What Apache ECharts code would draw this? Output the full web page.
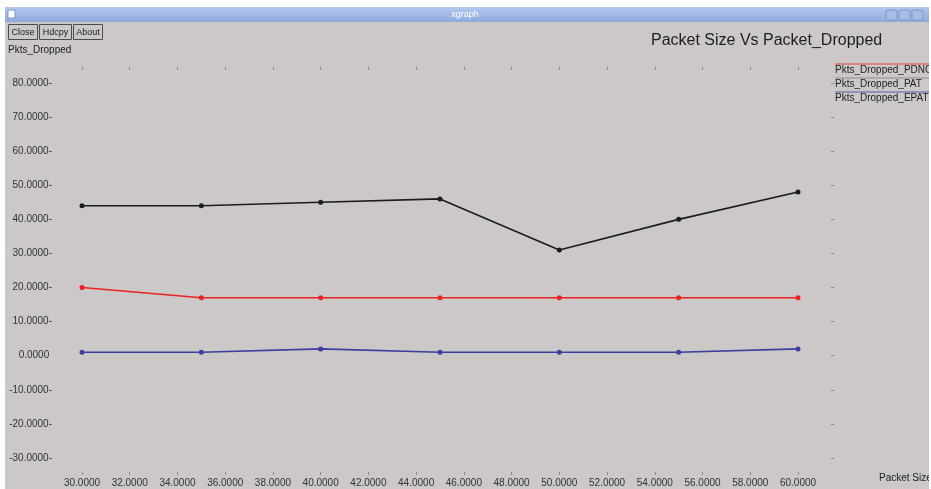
<!DOCTYPE html>
<html>
<head>
<meta charset="utf-8">
<title>xgraph</title>
<script src="https://cdn.jsdelivr.net/npm/echarts@6/dist/echarts.min.js"></script>
<style>
  html, body { margin: 0; padding: 0; background: #ffffff; }
  #chart { width: 931px; height: 489px; }
</style>
</head>
<body>
<div id="chart"></div>
<script>
// Packet size on the x axis, dropped packets for each scheme on the y axis
const packetSizes = [30, 35, 40, 45, 50, 55, 60];
const droppedPDNC = [20, 17, 17, 17, 17, 17, 17];
const droppedPAT  = [44, 44, 45, 46, 31, 40, 48];
const droppedEPAT = [1, 1, 2, 1, 1, 1, 2];
const seriesNames = ['Pkts_Dropped_PDNC', 'Pkts_Dropped_PAT', 'Pkts_Dropped_EPAT'];
const seriesColors = ['#e8231f', '#1c1c1c', '#3c3f9e'];
const windowTitle = 'xgraph';
const buttonLabels = ['Close', 'Hdcpy', 'About'];

const PANEL = '#cbc8c7';
const LABEL_FONT = 'Liberation Sans, Arial, sans-serif';

function pairs(values) {
  return packetSizes.map((x, i) => [x, values[i]]);
}

const chart = echarts.init(document.getElementById('chart'), null, { renderer: 'canvas' });

// window frame: panel, title bar, buttons, captions
const graphics = [
  { type: 'rect', shape: { x: 5, y: 22, width: 924, height: 467 }, style: { fill: PANEL }, silent: true, z: -10 },
  { type: 'rect', shape: { x: 5, y: 7, width: 924, height: 15 },
    style: { fill: new echarts.graphic.LinearGradient(0, 0, 0, 1, [
      { offset: 0, color: '#b4c8ee' }, { offset: 1, color: '#8eaadc' }]) }, silent: true, z: -9 },
  { type: 'rect', shape: { x: 8, y: 10, width: 7, height: 8 }, style: { fill: '#ffffff', stroke: '#7f98c8', lineWidth: 1 }, z: -8 },
  { type: 'text', x: 465, y: 15, style: { text: windowTitle, fill: '#ffffff', font: '9px ' + LABEL_FONT, textAlign: 'center', textVerticalAlign: 'middle' } }
];
[886, 899, 912].forEach(x => {
  graphics.push({ type: 'rect', shape: { x: x, y: 10, width: 11, height: 10, r: 1 }, style: { fill: '#a7bde6', stroke: '#7f98c8', lineWidth: 1 } });
});
let bx = 8;
buttonLabels.forEach(lbl => {
  const w = lbl === 'Hdcpy' ? 32 : 29;
  graphics.push({ type: 'rect', shape: { x: bx + 0.5, y: 24.5, width: w, height: 15 }, style: { fill: PANEL, stroke: '#4a4a4a', lineWidth: 1 } });
  graphics.push({ type: 'text', x: bx + w / 2 + 0.5, y: 32.5, style: { text: lbl, fill: '#222', font: '9px ' + LABEL_FONT, textAlign: 'center', textVerticalAlign: 'middle' } });
  bx += w + 2;
});
graphics.push({ type: 'text', x: 8, y: 50, style: { text: 'Pkts_Dropped', fill: '#222', font: '10px ' + LABEL_FONT, textVerticalAlign: 'middle' } });
graphics.push({ type: 'text', x: 879, y: 478, style: { text: 'Packet Size', fill: '#222', font: '10px ' + LABEL_FONT, textVerticalAlign: 'middle' } });

// legend: coloured rule above each series name
seriesNames.forEach((name, i) => {
  const y = 64 + i * 14;
  graphics.push({ type: 'line', shape: { x1: 835, y1: y, x2: 931, y2: y }, style: { stroke: seriesColors[i], lineWidth: 1, opacity: i === 1 ? 0.35 : 0.8 } });
  graphics.push({ type: 'text', x: 835, y: y + 6, style: { text: name, fill: '#222', font: '10px ' + LABEL_FONT, textVerticalAlign: 'middle' } });
});
// right-hand white margin
graphics.push({ type: 'rect', shape: { x: 929, y: 7, width: 2, height: 482 }, style: { fill: '#ffffff' }, z: 50 });

const tickStyle = { show: true, inside: true, length: 3, lineStyle: { color: '#8a8a8a', width: 1 } };
const hiddenLine = { show: false, onZero: false };

chart.setOption({
  animation: false,
  backgroundColor: '#ffffff',
  title: {
    text: 'Packet Size Vs Packet_Dropped',
    left: 646, top: 28,
    textStyle: { fontFamily: LABEL_FONT, fontSize: 16, fontWeight: 'normal', color: '#1e1e1e' }
  },
  graphic: graphics,
  grid: { left: 82, right: 133, top: 83, bottom: 31, containLabel: false },
  xAxis: [
    {
      type: 'value', min: 30, max: 60, interval: 2, position: 'bottom', offset: 17,
      axisLine: hiddenLine, splitLine: { show: false },
      axisTick: tickStyle,
      axisLabel: { margin: 3, color: '#333', fontSize: 10, fontFamily: LABEL_FONT, formatter: v => v.toFixed(4) }
    },
    {
      type: 'value', min: 30, max: 60, interval: 2, position: 'top', offset: 16,
      axisLine: hiddenLine, splitLine: { show: false },
      axisTick: tickStyle, axisLabel: { show: false }
    }
  ],
  yAxis: [
    {
      type: 'value', min: -30, max: 80, interval: 10, position: 'left',
      axisLine: hiddenLine, splitLine: { show: false }, axisTick: { show: false },
      axisLabel: { margin: 30, color: '#333', fontSize: 10, fontFamily: LABEL_FONT,
        formatter: v => v === 0 ? v.toFixed(4) + ' ' : v.toFixed(4) + '-' }
    },
    {
      type: 'value', min: -30, max: 80, interval: 10, position: 'right', offset: 36,
      axisLine: hiddenLine, splitLine: { show: false },
      axisTick: tickStyle, axisLabel: { show: false }
    }
  ],
  series: [droppedPDNC, droppedPAT, droppedEPAT].map((vals, i) => ({
    name: seriesNames[i],
    type: 'line',
    data: pairs(vals),
    symbol: 'circle',
    symbolSize: 5,
    lineStyle: { color: seriesColors[i], width: 1.6 },
    itemStyle: { color: seriesColors[i] },
    z: 3
  }))
});
</script>
</body>
</html>
